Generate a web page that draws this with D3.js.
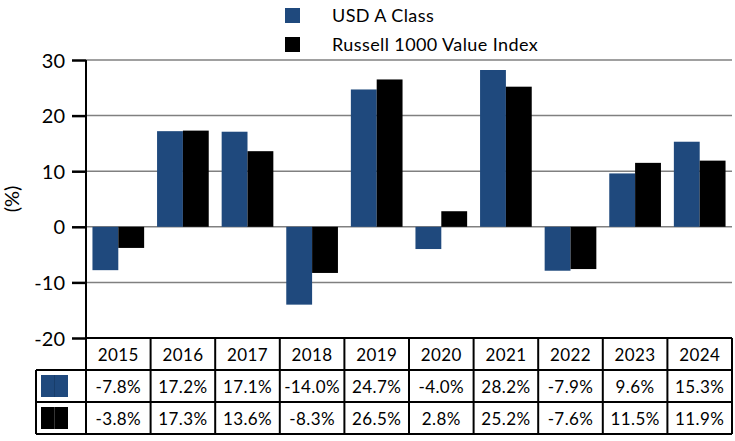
<!DOCTYPE html>
<html>
<head>
<meta charset="utf-8">
<script src="https://cdn.jsdelivr.net/npm/d3@7"></script>
<style>
  body { margin: 0; background: #fff; }
  text { font-family: "Lato", "Open Sans", sans-serif; fill: #000; }
</style>
</head>
<body>
<div id="chart"></div>
<script>
// data
const years = ["2015", "2016", "2017", "2018", "2019", "2020", "2021", "2022", "2023", "2024"];
const seriesNames = ["USD A Class", "Russell 1000 Value Index"];
const fundValues = [-7.8, 17.2, 17.1, -14.0, 24.7, -4.0, 28.2, -7.9, 9.6, 15.3];
const indexValues = [-3.8, 17.3, 13.6, -8.3, 26.5, 2.8, 25.2, -7.6, 11.5, 11.9];
const yTicks = [-20, -10, 0, 10, 20, 30];
const colors = ["#1f497d", "#000000"];

const W = 735, H = 441;
const margin = {top: 60, right: 3, bottom: 103, left: 86};
const width = W - margin.left - margin.right,
    height = H - margin.top - margin.bottom;

const svg = d3.select("#chart")
  .append("svg")
    .attr("width", W)
    .attr("height", H);

const g = svg.append("g")
    .attr("transform", `translate(${margin.left},${margin.top})`);

// scales
const x = d3.scaleBand()
  .domain(years)
  .range([0, width])
  .paddingInner(0.2)
  .paddingOuter(0.1);
const xCol = d3.scaleBand()
  .domain(years)
  .range([0, width]);
const x1 = d3.scaleBand()
  .domain([0, 1])
  .range([0, x.bandwidth()]);
const y = d3.scaleLinear()
  .domain([-20, 30])
  .range([height, 0]);

// gridlines
g.append("g")
  .selectAll("line")
  .data(yTicks.filter(d => d > -20))
  .join("line")
    .attr("x1", 0)
    .attr("x2", width)
    .attr("y1", d => y(d))
    .attr("y2", d => y(d))
    .attr("stroke", "#808080")
    .attr("stroke-width", 1.5);

// bars
const rows = years.map((yr, i) => ({year: yr, vals: [fundValues[i], indexValues[i]]}));
g.append("g")
  .selectAll("g")
  .data(rows)
  .join("g")
    .attr("transform", d => `translate(${xCol(d.year) + (xCol.bandwidth() - x.bandwidth()) / 2},0)`)
  .selectAll("rect")
  .data(d => d.vals.map((v, k) => ({v, k})))
  .join("rect")
    .attr("x", d => x1(d.k))
    .attr("width", x1.bandwidth())
    .attr("y", d => y(Math.max(0, d.v)))
    .attr("height", d => Math.abs(y(d.v) - y(0)))
    .attr("fill", d => colors[d.k]);

// y axis
const yAxis = g.append("g")
  .call(d3.axisLeft(y).tickValues(yTicks).tickSize(14).tickPadding(7).tickFormat(d => String(d)));
yAxis.select(".domain").remove();
yAxis.selectAll(".tick line").attr("stroke", "#000").attr("stroke-width", 2.5);
yAxis.selectAll(".tick text")
  .style("font-size", "20px")
  .style("font-family", "Lato, 'Open Sans', sans-serif")
  .attr("dy", "0.35em");
g.append("line")
  .attr("x1", 0).attr("x2", 0)
  .attr("y1", 0).attr("y2", height)
  .attr("stroke", "#000").attr("stroke-width", 2);

svg.append("text")
  .attr("transform", `translate(12,${margin.top + y(5)}) rotate(-90)`)
  .attr("text-anchor", "middle")
  .attr("dy", "0.35em")
  .style("font-size", "20px")
  .text("(%)");

// table
const rowH = 32;
const tbl = g.append("g").attr("transform", `translate(0,${height})`);
const tableRows = [years, fundValues.map(v => v.toFixed(1) + "%"), indexValues.map(v => v.toFixed(1) + "%")];
tableRows.forEach((r, ri) => {
  tbl.append("g")
    .selectAll("text")
    .data(r)
    .join("text")
      .attr("x", (d, i) => xCol(years[i]) + xCol.bandwidth() / 2)
      .attr("y", ri * rowH + rowH / 2 + 1)
      .attr("text-anchor", "middle")
      .attr("dy", "0.35em")
      .style("font-size", "17px")
      .style("letter-spacing", "0.4px")
      .text(d => d);
});
// table lines
const lineData = [];
[0, 1, 2, 3].forEach(i => {
  lineData.push({x1: i === 0 ? 0 : -50, x2: width, y1: i * rowH, y2: i * rowH});
});
d3.range(11).forEach(i => {
  const xx = i < 10 ? xCol(years[i]) : width;
  lineData.push({x1: xx, x2: xx, y1: 0, y2: 3 * rowH});
});
lineData.push({x1: -50, x2: -50, y1: rowH, y2: 3 * rowH});
tbl.append("g")
  .selectAll("line")
  .data(lineData)
  .join("line")
    .attr("x1", d => d.x1).attr("x2", d => d.x2)
    .attr("y1", d => d.y1).attr("y2", d => d.y2)
    .attr("stroke", "#000")
    .attr("stroke-width", 2);
// table swatches
colors.forEach((c, k) => {
  const sy = (k + 1) * rowH + 5;
  tbl.append("rect")
    .attr("x", -45).attr("y", sy)
    .attr("width", 27).attr("height", rowH - 10)
    .attr("fill", c);
  tbl.append("line")
    .attr("x1", -31.5).attr("x2", -31.5)
    .attr("y1", sy).attr("y2", sy + rowH - 10)
    .attr("stroke", k === 0 ? "#163a66" : "#444").attr("stroke-width", 0.8);
});

// legend
const legend = svg.append("g")
  .selectAll("g")
  .data(seriesNames)
  .join("g")
    .attr("transform", (d, i) => `translate(285,${8 + i * 29})`);
legend.append("rect")
  .attr("width", 15).attr("height", 15)
  .attr("fill", (d, i) => colors[i]);
legend.append("text")
  .attr("x", 47).attr("y", 8)
  .attr("dy", "0.35em")
  .style("font-size", "18px")
  .style("letter-spacing", "0.4px")
  .text(d => d);
</script>
</body>
</html>
